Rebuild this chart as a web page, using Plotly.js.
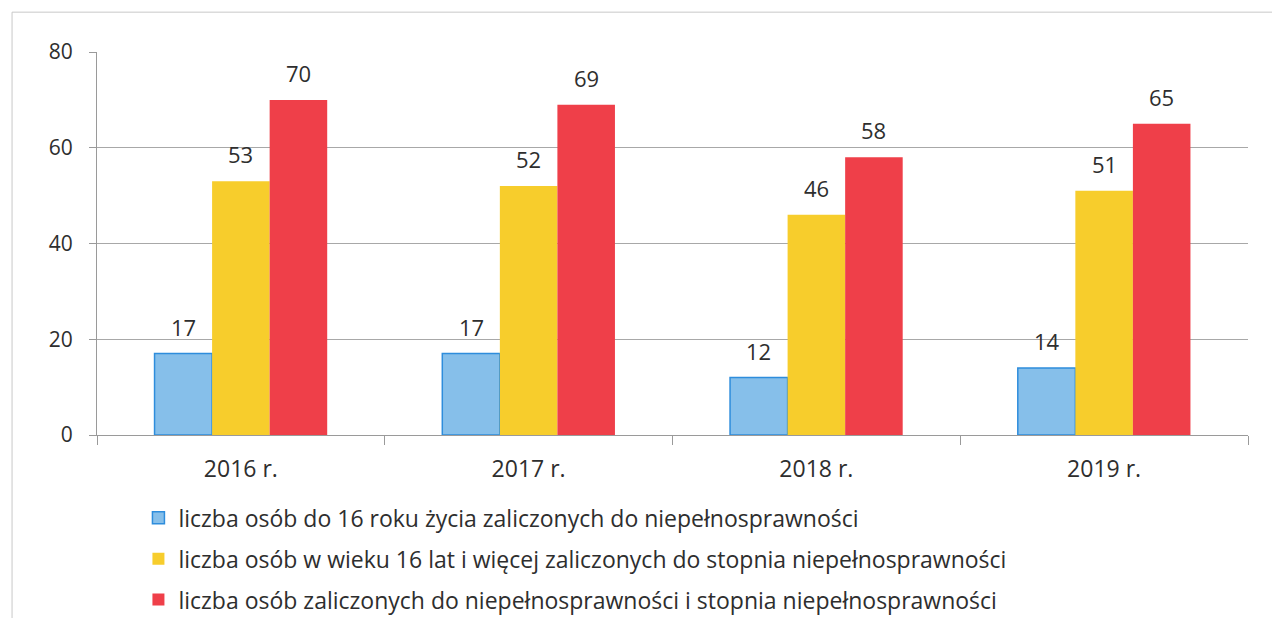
<!DOCTYPE html>
<html>
<head>
<meta charset="utf-8">
<script src="https://cdn.plot.ly/plotly-3.0.1.min.js"></script>
<style>html,body{margin:0;padding:0;background:#fff;}#chart{width:1272px;height:618px;}</style>
</head>
<body>
<div id="chart"></div>
<script>
const categories = ["2016 r.", "2017 r.", "2018 r.", "2019 r."];
const seriesNames = [
  "liczba osób do 16 roku życia zaliczonych do niepełnosprawności",
  "liczba osób w wieku 16 lat i więcej zaliczonych do stopnia niepełnosprawności",
  "liczba osób zaliczonych do niepełnosprawności i stopnia niepełnosprawności"
];
const under16 = [17, 17, 12, 14];
const over16 = [53, 52, 46, 51];
const total = [70, 69, 58, 65];
const yTicks = [0, 20, 40, 60, 80];

const seriesValues = [under16, over16, total];
const fills = ["#86bfea", "#f7cd2c", "#ef3f49"];
const lines = ["#2e8ddc", "#f7cd2c", "#ef3f49"];
const FONT = "'Open Sans', sans-serif";
const TXT = "#2e2e2e";

const traces = seriesValues.map((vals, i) => ({
  type: "bar",
  name: seriesNames[i],
  x: categories,
  y: vals,
  legendgroup: "g" + i,
  marker: {color: fills[i], line: {color: lines[i], width: i === 0 ? 1.5 : 0}},
  hoverinfo: "skip"
}));

const nSeries = seriesValues.length;
const bargap = 0.4;
const barW = (1 - bargap) / nSeries;
const annotations = [];
seriesValues.forEach((vals, s) => {
  vals.forEach((v, c) => {
    annotations.push({
      x: c - (1 - bargap) / 2 + barW * (s + 0.5),
      y: v, xref: "x", yref: "y",
      text: String(v), showarrow: false,
      yanchor: "bottom", yshift: 10,
      font: {family: FONT, size: 22, color: TXT}
    });
  });
});

const layout = {
  width: 1272, height: 618,
  margin: {l: 97, r: 24, t: 52, b: 183, autoexpand: false},
  paper_bgcolor: "#ffffff", plot_bgcolor: "#ffffff",
  barmode: "group", bargap: bargap, bargroupgap: 0,
  font: {family: FONT, size: 20, color: TXT},
  xaxis: {
    type: "category",
    showgrid: false,
    showline: true, linecolor: "#9a9a9a", linewidth: 1,
    ticks: "outside", tickson: "boundaries", ticklen: 9, tickcolor: "#9a9a9a",
    tickfont: {family: FONT, size: 23, color: TXT},
    ticklabelstandoff: 13,
    zeroline: false
  },
  yaxis: {
    range: [0, 80],
    tickvals: yTicks,
    showgrid: true, gridcolor: "#a8a8a8", gridwidth: 1,
    showline: true, linecolor: "#9a9a9a", linewidth: 1,
    ticks: "outside", ticklen: 7, tickcolor: "#9a9a9a",
    tickfont: {family: FONT, size: 21, color: TXT},
    ticklabelstandoff: 12,
    zeroline: false
  },
  showlegend: true,
  legend: {
    orientation: "v",
    x: 0.036, xanchor: "left",
    y: -0.160, yanchor: "top",
    font: {family: FONT, size: 23, color: TXT},
    tracegroupgap: 8,
    itemwidth: 30,
    bgcolor: "rgba(0,0,0,0)"
  },
  annotations: annotations,
  shapes: [
    {type: "line", xref: "paper", yref: "paper", x0: -0.0738, x1: 1.03, y0: 1.104, y1: 1.104, line: {color: "#c8c8c8", width: 1}},
    {type: "line", xref: "paper", yref: "paper", x0: -0.0738, x1: -0.0738, y0: 1.104, y1: -0.6, line: {color: "#c8c8c8", width: 1}}
  ]
};

Plotly.newPlot("chart", traces, layout, {staticPlot: true, displayModeBar: false});
</script>
</body>
</html>
